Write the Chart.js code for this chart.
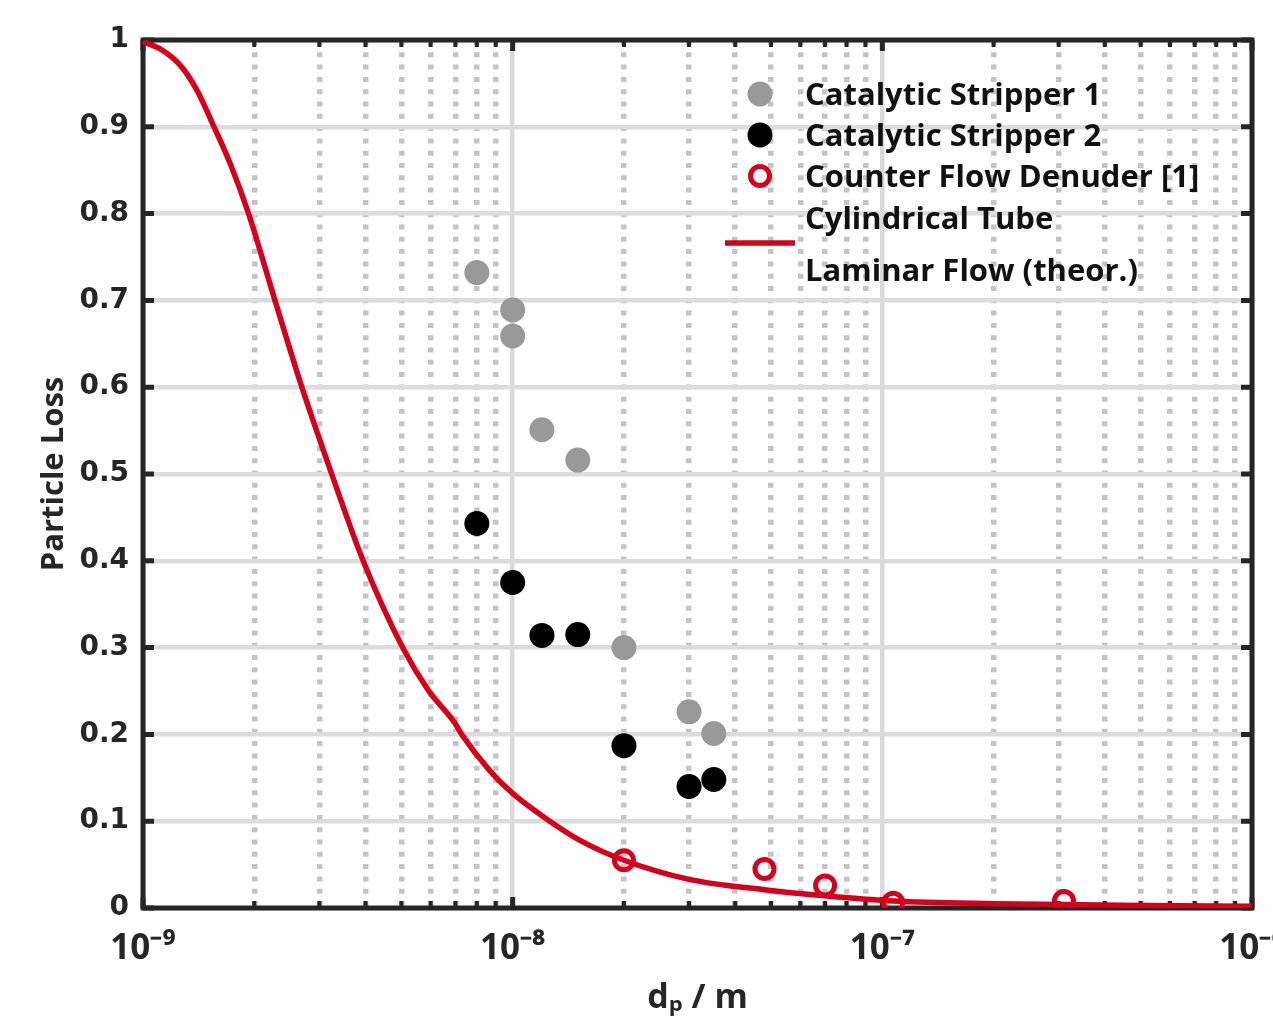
<!DOCTYPE html>
<html>
<head>
<meta charset="utf-8">
<title>Particle Loss</title>
<script src="https://cdn.jsdelivr.net/npm/chart.js@4.4.1/dist/chart.umd.min.js"></script>
<style>
  html, body { margin: 0; padding: 0; background: #fff; }
  #wrap { width: 1273px; height: 1019px; }
</style>
</head>
<body>
<div id="wrap"><canvas id="chart" width="1273" height="1019"></canvas></div>
<script>
// Werte (x = Durchmesser in m, y = Verlust)
const cs1Name = "Catalytic Stripper 1";
const cs1D = [8e-9, 1e-8, 1e-8, 1.2e-8, 1.5e-8, 2e-8, 3e-8, 3.5e-8];
const cs1Loss = [0.732, 0.689, 0.659, 0.551, 0.516, 0.300, 0.226, 0.201];

const cs2Name = "Catalytic Stripper 2";
const cs2D = [8e-9, 1e-8, 1.2e-8, 1.5e-8, 2e-8, 3e-8, 3.5e-8];
const cs2Loss = [0.443, 0.375, 0.314, 0.315, 0.187, 0.140, 0.148];

const cfdName = "Counter Flow Denuder [1]";
const cfdD = [2e-8, 4.8e-8, 7e-8, 1.07e-7, 3.1e-7];
const cfdLoss = [0.055, 0.045, 0.026, 0.006, 0.008];

// theoretische Kurve (laminar)
const lamName = ["Cylindrical Tube", "Laminar Flow (theor.)"];
const lamD = [1e-9, 1.11e-9, 1.26e-9, 1.4e-9, 1.556e-9, 1.72e-9, 1.93e-9, 2.275e-9, 2.69e-9, 3.27e-9,
  3.94e-9, 5.04e-9, 5.91e-9, 6.98e-9, 7.28e-9, 8.68e-9, 1e-8, 1.26e-8, 1.52e-8, 2e-8,
  3e-8, 4.8e-8, 7e-8, 1.07e-7, 2e-7, 3.1e-7, 5e-7, 1e-6];
const lamLoss = [0.998, 0.990, 0.971, 0.942, 0.90, 0.858, 0.80, 0.70, 0.60, 0.495,
  0.40, 0.30, 0.251, 0.213, 0.200, 0.158, 0.132, 0.100, 0.078, 0.055,
  0.033, 0.021, 0.014, 0.008, 0.005, 0.004, 0.003, 0.002];

// Achsen
const xDecades = [-9, -8, -7, -6];
const yTickValues = [0, 0.1, 0.2, 0.3, 0.4, 0.5, 0.6, 0.7, 0.8, 0.9, 1];

const RED = "#d7001c";
const toXY = (xs, ys) => xs.map((v, i) => ({ x: v, y: ys[i] }));

// log ticks: 1..9 je Dekade, 1 = major
const xTicks = [];
for (let i = 0; i < xDecades.length - 1; i++) {
  for (let k = 1; k <= 9; k++) {
    xTicks.push({ value: k * Math.pow(10, xDecades[i]), major: k === 1 });
  }
}
xTicks.push({ value: Math.pow(10, xDecades[xDecades.length - 1]), major: true });

const sup = { "-": "\u207B", "0": "\u2070", "1": "\u00B9", "2": "\u00B2", "3": "\u00B3", "4": "\u2074",
  "5": "\u2075", "6": "\u2076", "7": "\u2077", "8": "\u2078", "9": "\u2079" };
function powLabel(v) {
  const e = String(Math.round(Math.log10(v)));
  return "10" + e.split("").map(c => sup[c]).join("");
}

// Rahmen + Ticks nach innen
const framePlugin = {
  id: "frame",
  beforeDatasetsDraw(chart) {
    const { ctx, chartArea: a, scales } = chart;
    const x = scales.x, y = scales.y;
    ctx.save();
    ctx.strokeStyle = "#262626";
    ctx.lineWidth = 5;
    y.ticks.forEach(t => {
      const py = y.getPixelForValue(t.value);
      ctx.beginPath();
      ctx.moveTo(a.left, py); ctx.lineTo(a.left + 11, py);
      ctx.moveTo(a.right, py); ctx.lineTo(a.right - 11, py);
      ctx.stroke();
    });
    x.ticks.forEach(t => {
      const px = x.getPixelForValue(t.value);
      const len = t.major ? 11 : 7;
      ctx.lineWidth = t.major ? 5 : 4;
      ctx.beginPath();
      ctx.moveTo(px, a.bottom); ctx.lineTo(px, a.bottom - len);
      ctx.moveTo(px, a.top); ctx.lineTo(px, a.top + len);
      ctx.stroke();
    });
    ctx.lineWidth = 5;
    ctx.strokeRect(a.left, a.top, a.right - a.left, a.bottom - a.top);
    ctx.restore();
  }
};

// Legende oben rechts im Plot
const legendPlugin = {
  id: "cornerLegend",
  afterDraw(chart) {
    const { ctx } = chart;
    const ds = chart.data.datasets;
    const mx = 760, tx = 805;
    const rows = [96, 137, 178];
    ctx.save();
    ctx.font = 'bold 31px "Open Sans"';
    ctx.textBaseline = "middle";
    for (let i = 0; i < 3; i++) {
      const d = ds[i];
      ctx.beginPath();
      ctx.arc(mx, rows[i] - 2, d.pointRadius, 0, Math.PI * 2);
      if (d.pointBorderWidth > 0) {
        ctx.lineWidth = d.pointBorderWidth;
        ctx.strokeStyle = d.pointBorderColor;
        ctx.stroke();
      } else {
        ctx.fillStyle = d.pointBackgroundColor;
        ctx.fill();
      }
      ctx.fillStyle = "#111";
      ctx.fillText(d.label, tx, rows[i]);
    }
    const l = ds[3];
    ctx.strokeStyle = l.borderColor;
    ctx.lineWidth = l.borderWidth;
    ctx.beginPath();
    ctx.moveTo(725, 243); ctx.lineTo(795, 243);
    ctx.stroke();
    ctx.fillText(l.label[0], tx, 220);
    ctx.fillText(l.label[1], tx, 272);
    ctx.restore();
  }
};

const chart = new Chart(document.getElementById("chart"), {
  data: {
    datasets: [
      {
        type: "scatter", label: cs1Name, data: toXY(cs1D, cs1Loss),
        pointBackgroundColor: "#999999", pointBorderColor: "#999999", pointBorderWidth: 0,
        pointRadius: 12.5, order: 3
      },
      {
        type: "scatter", label: cs2Name, data: toXY(cs2D, cs2Loss),
        pointBackgroundColor: "#000000", pointBorderColor: "#000000", pointBorderWidth: 0,
        pointRadius: 12.5, order: 2
      },
      {
        type: "scatter", label: cfdName, data: toXY(cfdD, cfdLoss),
        pointBackgroundColor: "rgba(255,255,255,0)", pointBorderColor: RED, pointBorderWidth: 5,
        pointRadius: 9.5, order: 1
      },
      {
        type: "line", label: lamName, data: toXY(lamD, lamLoss),
        borderColor: RED, borderWidth: 5.5, pointRadius: 0,
        cubicInterpolationMode: "monotone", fill: false, order: 0
      }
    ]
  },
  options: {
    responsive: false,
    animation: false,
    devicePixelRatio: 1,
    layout: { padding: { left: 0, top: 40, right: 21, bottom: 0 } },
    plugins: {
      legend: { display: false },
      tooltip: { enabled: false }
    },
    scales: {
      x: {
        type: "logarithmic",
        min: 1e-9, max: 1e-6,
        afterBuildTicks: scale => { scale.ticks = xTicks.map(t => ({ ...t })); },
        afterFit: scale => { scale.height = 111; scale.paddingLeft = 0; scale.paddingRight = 0; },
        ticks: {
          autoSkip: false, maxRotation: 0, padding: 20,
          color: "#262626",
          font: { family: '"Open Sans"', size: 35, weight: "bold" },
          callback: (v, i, ticks) => ticks[i].major ? powLabel(v) : ""
        },
        grid: {
          drawTicks: false,
          color: c => c.tick && c.tick.major ? "#d9d9d9" : "#c4c4c4",
          lineWidth: c => c.tick && c.tick.major ? 4.5 : 5.5
        },
        border: {
          display: false,
          dash: c => c.tick && c.tick.major ? [] : [5, 7.3]
        },
        title: {
          display: true, text: "d\u209A / m", color: "#262626",
          font: { family: '"Open Sans"', size: 34, weight: "bold" },
          padding: { top: 0, bottom: 0 }
        }
      },
      y: {
        type: "linear",
        min: 0, max: 1,
        afterBuildTicks: scale => { scale.ticks = yTickValues.map(v => ({ value: v })); },
        afterFit: scale => { scale.width = 143; scale.paddingTop = 0; scale.paddingBottom = 0; },
        ticks: {
          padding: 14,
          color: "#262626",
          font: { family: '"DejaVu Sans"', size: 28, weight: "bold" },
          callback: v => (v === 0 || v === 1) ? String(v) : v.toFixed(1)
        },
        grid: { drawTicks: false, color: "#dcdcdc", lineWidth: 4.5 },
        border: { display: false },
        title: {
          display: true, text: "Particle Loss", color: "#262626",
          font: { family: '"Open Sans"', size: 31, weight: "bold" },
          padding: { top: 36, bottom: 0 }
        }
      }
    }
  },
  plugins: [framePlugin, legendPlugin]
});
</script>
</body>
</html>
